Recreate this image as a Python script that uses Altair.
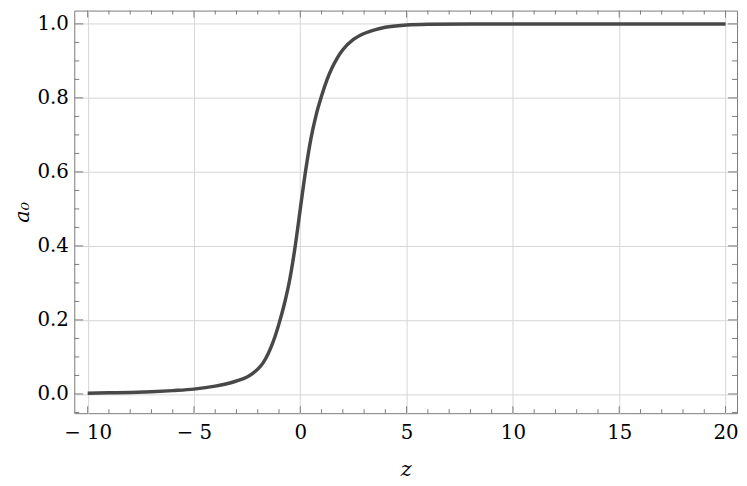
import altair as alt
import pandas as pd

# curve
z_vals = [-10, -9, -8, -7, -6, -5, -4, -3.5, -3, -2.5, -2.25, -2, -1.75, -1.5, -1.25, -1,
          -0.75, -0.5, -0.25, 0, 0.25, 0.5, 0.75, 1, 1.25, 1.5, 1.75, 2, 2.5, 3, 3.5, 4,
          5, 6, 8, 10, 15, 20]
a0_vals = [0.002, 0.003, 0.004, 0.006, 0.009, 0.013, 0.021, 0.027, 0.035, 0.046, 0.055,
           0.067, 0.084, 0.11, 0.145, 0.19, 0.243, 0.308, 0.395, 0.50, 0.603, 0.69, 0.755,
           0.805, 0.848, 0.882, 0.909, 0.93, 0.958, 0.974, 0.984, 0.991, 0.997, 0.999,
           1.0, 1.0, 1.0, 1.0]

x_major = [-10, -5, 0, 5, 10, 15, 20]
x_minor = [-9, -8, -7, -6, -4, -3, -2, -1, 1, 2, 3, 4, 6, 7, 8, 9, 11, 12, 13, 14,
           16, 17, 18, 19]
y_major = [0.0, 0.2, 0.4, 0.6, 0.8, 1.0]
y_minor = [-0.05, 0.05, 0.1, 0.15, 0.25, 0.3, 0.35, 0.45, 0.5, 0.55, 0.65, 0.7, 0.75,
           0.85, 0.9, 0.95]

W, H = 670, 407
XD = [-10.63, 20.54]
YD = [-0.052, 1.036]
FONT = "DejaVu Serif"
TC = "#7a7a7a"
GC = "#d6d6d6"

xs = alt.Scale(domain=XD, nice=False, zero=False)
ys = alt.Scale(domain=YD, nice=False, zero=False)

x_axis = alt.Axis(
    values=x_major, grid=True, gridColor=GC, ticks=False, domain=False,
    labelExpr="datum.value < 0 ? '\u2212 ' + format(-datum.value, 'd') : format(datum.value, 'd')",
    labelFontSize=20, labelColor="#000", labelPadding=10,
    labelBaseline="top", labelFlush=False,
    title="z", titleFontSize=21, titleFontStyle="italic",
    titleFontWeight="normal", titleColor="#000", titleBaseline="alphabetic",
    titleY=63)
y_axis = alt.Axis(
    values=y_major, grid=True, gridColor=GC, ticks=False, domain=False,
    format=".1f", labelFontSize=20, labelColor="#000",
    labelPadding=6, labelFlush=False,
    title="a\u2080", titleFontSize=21, titleFontStyle="italic",
    titleFontWeight="normal", titleColor="#000", titleBaseline="alphabetic",
    titleX=-46)

curve = pd.DataFrame({"z": z_vals, "a0": a0_vals})

line = alt.Chart(curve).mark_line(
    color="#484848", strokeWidth=3.5, interpolate="monotone"
).encode(
    x=alt.X("z:Q", scale=xs, axis=x_axis),
    y=alt.Y("a0:Q", scale=ys, axis=y_axis),
)

def xticks(vals, length):
    d = pd.DataFrame({"v": vals})
    bottom = alt.Chart(d).mark_rule(color=TC, strokeWidth=1).encode(
        x=alt.X("v:Q", scale=xs, axis=x_axis), y=alt.value(H), y2=alt.value(H - length))
    top = alt.Chart(d).mark_rule(color=TC, strokeWidth=1).encode(
        x=alt.X("v:Q", scale=xs, axis=x_axis), y=alt.value(0), y2=alt.value(length))
    return [bottom, top]

def yticks(vals, length):
    d = pd.DataFrame({"v": vals})
    left = alt.Chart(d).mark_rule(color=TC, strokeWidth=1).encode(
        y=alt.Y("v:Q", scale=ys, axis=y_axis), x=alt.value(0), x2=alt.value(length))
    right = alt.Chart(d).mark_rule(color=TC, strokeWidth=1).encode(
        y=alt.Y("v:Q", scale=ys, axis=y_axis), x=alt.value(W), x2=alt.value(W - length))
    return [left, right]

layers = [line] + xticks(x_major, 7) + xticks(x_minor, 4) + yticks(y_major, 9) + yticks(y_minor, 5)

chart = alt.layer(*layers).properties(
    width=W, height=H,
    padding={"left": 67, "top": 0, "right": 2, "bottom": 71},
    autosize=alt.AutoSizeParams(type="none"),
    background="white",
).configure(
    font=FONT
).configure_axis(
    labelFont=FONT, titleFont=FONT
).configure_view(stroke=TC, strokeWidth=1)

chart.save("out.html", embed_options={"renderer": "svg", "actions": False})
